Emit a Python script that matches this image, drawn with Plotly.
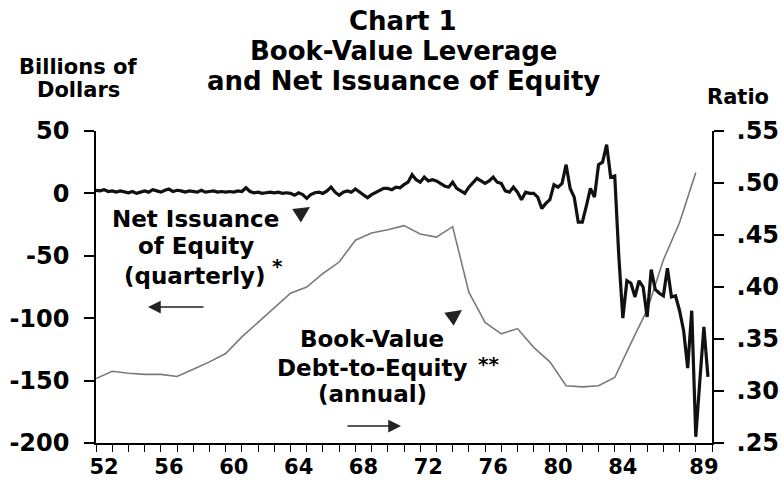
"""
Chart 1: Book-Value Leverage and Net Issuance of Equity, 1952-89.
Quarterly net issuance (left axis, $bn) and annual book-value debt-to-equity (right axis).
"""
import plotly.graph_objects as go

# ----- data -----

YEARS = list(range(1952, 1990))

# annual book-value debt-to-equity ratio
DEBT_TO_EQUITY = [
    0.312, 0.319, 0.317, 0.316, 0.316, 0.314, 0.321, 0.328, 0.336, 0.352,
    0.366, 0.380, 0.394, 0.400, 0.413, 0.424, 0.445, 0.452, 0.455, 0.459,
    0.451, 0.448, 0.458, 0.395, 0.366, 0.355, 0.360, 0.342, 0.328, 0.305,
    0.304, 0.305, 0.313, 0.346, 0.378, 0.426, 0.462, 0.510,
]

# quarterly net issuance of equity, billions of dollars (Q1..Q4 per row)
NET_ISSUANCE = [
    2.5, 2.0, 3.0, 1.5,      # 1952
    2.0, 1.0, 2.0, 1.5,      # 1953
    0.5, 1.5, 0.0, 1.0,      # 1954
    2.0, 1.0, 3.0, 2.0,      # 1955
    1.0, 2.5, 3.5, 1.5,      # 1956
    2.5, 2.0, 1.0, 2.0,      # 1957
    1.5, 1.0, 2.5, 1.0,      # 1958
    1.5, 2.0, 1.0, 1.5,      # 1959
    1.0, 1.5, 1.0, 2.0,      # 1960
    1.5, 4.5, 1.5, 0.5,      # 1961
    1.0, 0.0, 0.5, 1.0,      # 1962
    0.5, 1.0, 0.0, 0.5,      # 1963
    0.0, -1.5, 0.5, -1.0,    # 1964
    -4.0, -1.0, 0.5, 1.0,    # 1965
    0.0, 2.0, 5.0, 1.0,      # 1966
    -1.5, 1.0, 2.0, 1.0,     # 1967
    3.5, 1.0, -1.0, -3.5,    # 1968
    -1.0, 0.5, 2.5, 4.0,     # 1969
    4.0, 3.0, 5.0, 4.5,      # 1970
    7.0, 9.0, 15.0, 11.0,    # 1971
    9.0, 13.0, 10.0, 11.0,   # 1972
    10.0, 8.0, 6.0, 5.0,     # 1973
    9.0, 4.0, 2.0, 0.0,      # 1974
    5.0, 9.0, 12.0, 10.0,    # 1975
    8.0, 10.0, 13.0, 9.0,    # 1976
    8.0, 2.0, 1.0, 5.0,      # 1977
    1.0, -5.0, 1.0, 0.0,     # 1978
    0.0, -3.0, -12.0, -8.0,  # 1979
    -5.0, 7.0, 5.0, 8.0,     # 1980
    23.0, 4.0, -3.0, -23.0,  # 1981
    -23.0, -10.0, 4.0, -3.0,  # 1982
    23.0, 25.0, 39.0, 13.0,  # 1983
    14.0, -50.0, -100.0, -70.0,  # 1984
    -72.0, -83.0, -70.0, -75.0,  # 1985
    -99.0, -61.0, -77.0, -80.0,  # 1986
    -82.0, -60.0, -83.0, -82.0,  # 1987
    -94.0, -110.0, -140.0, -94.0,  # 1988
    -195.0, -150.0, -107.0, -147.0,  # 1989
]

X_LABEL_YEARS = [1952, 1956, 1960, 1964, 1968, 1972, 1976, 1980, 1984, 1989]
X_LABELS = ["52", "56", "60", "64", "68", "72", "76", "80", "84", "89"]

LEFT_TICKS = [-200, -150, -100, -50, 0, 50]
LEFT_LABELS = ["-200", "-150", "-100", "-50", "0", "50"]

RIGHT_TICKS = [0.25, 0.30, 0.35, 0.40, 0.45, 0.50, 0.55]
RIGHT_LABELS = [".25", ".30", ".35", ".40", ".45", ".50", ".55"]

# ----- layout helpers -----
W, H = 781, 481
L, R, T, B = 96, 69, 131, 38
FONT = "DejaVu Sans"


def px(x):
    """pixel x -> paper x"""
    return (x - L) / (W - L - R)


def py(y):
    """pixel y -> paper y"""
    return (H - B - y) / (H - T - B)


quarter_x = [yr + q / 4 for yr in YEARS for q in range(4)]

fig = go.Figure()
fig.add_trace(go.Scatter(
    x=YEARS, y=DEBT_TO_EQUITY, mode="lines", yaxis="y",
    line=dict(color="#7a7a7a", width=1.6), name="Debt-to-Equity",
))
fig.add_trace(go.Scatter(
    x=quarter_x, y=NET_ISSUANCE, mode="lines", yaxis="y2",
    line=dict(color="#111111", width=3.2), name="Net Issuance",
))

tickfont = dict(family=FONT, size=24, color="black", weight="bold")
axis_common = dict(showgrid=False, zeroline=False, showline=True, linecolor="black",
                   linewidth=1.5, ticks="outside", ticklen=10, tickwidth=1.5,
                   tickcolor="black", tickfont=tickfont, automargin=False)

fig.update_layout(
    width=W, height=H,
    margin=dict(l=L, r=R, t=T, b=B),
    paper_bgcolor="white", plot_bgcolor="white",
    showlegend=False,
    font=dict(family=FONT, color="black"),
    xaxis=dict(
        range=[1952, 1990], showgrid=False, zeroline=False, showline=True,
        linecolor="black", linewidth=1.5, automargin=False,
        tickmode="array", tickvals=[v + 0.5 for v in X_LABEL_YEARS], ticktext=X_LABELS,
        ticks="", tickfont=dict(family=FONT, size=21, color="black", weight="bold"),
        ticklabelstandoff=4,
        minor=dict(tickmode="array", tickvals=list(range(1952, 1991)), ticks="outside",
                   ticklen=7, tickwidth=1.2, tickcolor="black"),
    ),
    yaxis=dict(range=[0.25, 0.55], side="right", tickmode="array",
               tickvals=RIGHT_TICKS, ticktext=RIGHT_LABELS, ticklabelstandoff=8,
               **axis_common),
    yaxis2=dict(range=[-200, 50], side="left", overlaying="y", tickmode="array",
                tickvals=LEFT_TICKS, ticktext=LEFT_LABELS, ticklabelstandoff=10,
                **axis_common),
)

ann = []


def text(x, y, s, size=23, anchor="center"):
    ann.append(dict(x=px(x), y=py(y), xref="paper", yref="paper", text=s, showarrow=False,
                    xanchor=anchor, yanchor="middle",
                    font=dict(family=FONT, size=size, color="black", weight="bold")))


# title
text(403, 21, "Chart 1", 26)
text(403, 51, "Book-Value Leverage", 26)
text(403, 81, "and Net Issuance of Equity", 26)
# axis titles
text(78, 67, "Billions of", 21)
text(78, 90, "Dollars", 21)
text(738, 97, "Ratio", 21)
# series labels
text(195, 219, "Net Issuance")
text(196, 246, "of Equity")
text(195, 276, "(quarterly)")
text(277, 266, "*", 20)
text(372, 339, "Book-Value")
text(372, 368, "Debt-to-Equity")
text(488, 364, "**", 20)
text(372, 394, "(annual)")


def arrow(x, y, ax, ay, size, width):
    ann.append(dict(x=px(x), y=py(y), xref="paper", yref="paper", text="", showarrow=True,
                    ax=ax, ay=ay, arrowhead=2, arrowsize=size, arrowwidth=width,
                    arrowcolor="#222222"))


arrow(148, 307, 57, 0, 1.7, 1.5)
arrow(401, 426, -55, 0, 1.7, 1.5)
arrow(310, 207, -14, 9, 1.6, 2)
arrow(462, 310, -14, 10, 1.6, 2)

fig.update_layout(annotations=ann)
# page body has a default 8px margin; drop it so the figure sits at the window's corner
fig.write_html("out.html", config={"displayModeBar": False},
               post_script="document.body.style.margin='0';")
